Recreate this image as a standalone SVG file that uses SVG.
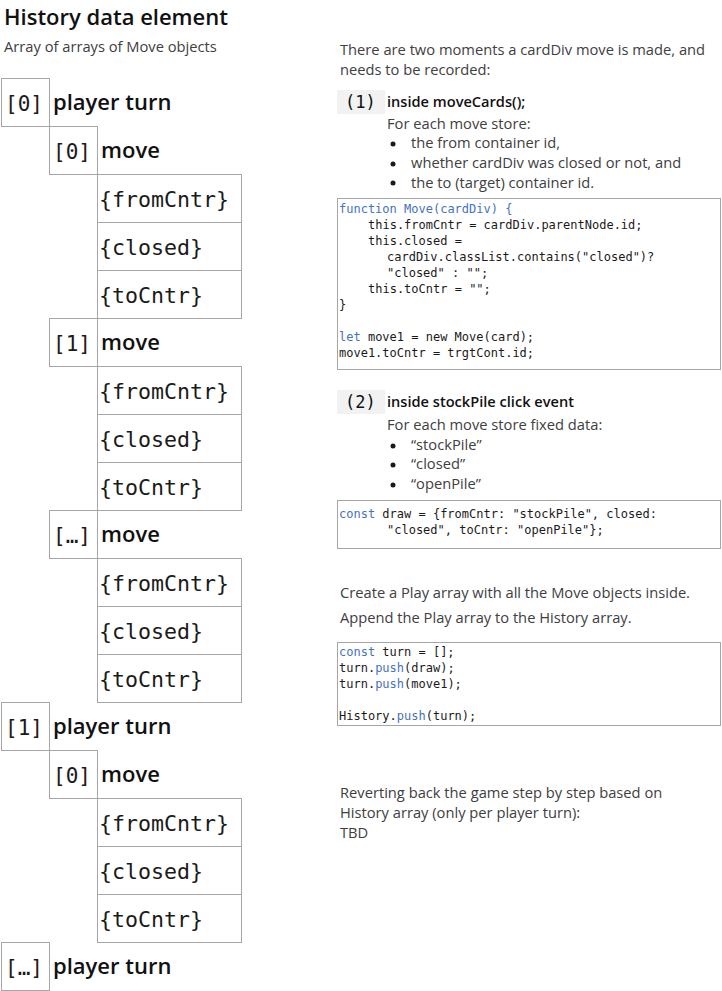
<svg xmlns="http://www.w3.org/2000/svg" width="722" height="991" viewBox="0 0 722 991">
  <style>
    .bg { fill: #ffffff; }
    .cell { fill: none; stroke: #a6a6a6; stroke-width: 1; }
    .idx { font-family: "DejaVu Sans Mono", "Liberation Mono", monospace; font-size: 21px; fill: #1a1a1a; }
    .fld { font-family: "DejaVu Sans Mono", "Liberation Mono", monospace; font-size: 21.6px; fill: #1a1a1a; }
    .lbl { font-family: "Open Sans", "Noto Sans", "Liberation Sans", sans-serif; font-weight: 600; font-size: 22px; fill: #111111; }
    .title { font-family: "Open Sans", "Noto Sans", "Liberation Sans", sans-serif; font-weight: 600; font-size: 22px; fill: #111111; }
    .body { font-family: "Open Sans", "Noto Sans", "Liberation Sans", sans-serif; font-size: 14.7px; fill: #404040; }
    .head { font-family: "Open Sans", "Noto Sans", "Liberation Sans", sans-serif; font-weight: 600; font-size: 14.6px; fill: #111111; }
    .step { font-family: "DejaVu Sans Mono", "Liberation Mono", monospace; font-size: 17px; fill: #111111; }
    .stepbg { fill: #f2f2f2; }
    .codebox { fill: #ffffff; stroke: #a6a6a6; stroke-width: 1; }
    .code { font-family: "DejaVu Sans Mono", "Liberation Mono", monospace; font-size: 12px; fill: #1a1a1a; white-space: pre; }
    .kw { fill: #4472c4; }
    .dot { fill: #1a1a1a; }
  </style>

  <rect class="bg" x="0" y="0" width="722" height="991"/>

  <!-- headings -->
  <text class="title" x="4" y="25">History data element</text>
  <text class="body" x="4" y="52">Array of arrays of Move objects</text>

  <!-- History array: turns, moves and move fields -->
  <g id="turn0">
    <rect class="cell" x="1.5" y="78.5" width="48" height="48"/>
    <text class="idx" x="5" y="111">[0]</text>
    <text class="lbl" x="53" y="110">player turn</text>
  </g>
  <g id="turn0-move0">
    <rect class="cell" x="49.5" y="126.5" width="48" height="48"/>
    <text class="idx" x="53" y="159">[0]</text>
    <text class="lbl" x="101" y="158">move</text>
  </g>
  <g id="turn0-move0-fields">
    <rect class="cell" x="97.5" y="174.5" width="144" height="48"/>
    <rect class="cell" x="97.5" y="222.5" width="144" height="48"/>
    <rect class="cell" x="97.5" y="270.5" width="144" height="48"/>
    <text class="fld" x="99" y="207">{fromCntr}</text>
    <text class="fld" x="99" y="255">{closed}</text>
    <text class="fld" x="99" y="303">{toCntr}</text>
  </g>
  <g id="turn0-move1">
    <rect class="cell" x="49.5" y="318.5" width="48" height="48"/>
    <text class="idx" x="53" y="351">[1]</text>
    <text class="lbl" x="101" y="350">move</text>
  </g>
  <g id="turn0-move1-fields">
    <rect class="cell" x="97.5" y="366.5" width="144" height="48"/>
    <rect class="cell" x="97.5" y="414.5" width="144" height="48"/>
    <rect class="cell" x="97.5" y="462.5" width="144" height="48"/>
    <text class="fld" x="99" y="399">{fromCntr}</text>
    <text class="fld" x="99" y="447">{closed}</text>
    <text class="fld" x="99" y="495">{toCntr}</text>
  </g>
  <g id="turn0-moveN">
    <rect class="cell" x="49.5" y="510.5" width="48" height="48"/>
    <text class="idx" x="53" y="543">[…]</text>
    <text class="lbl" x="101" y="542">move</text>
  </g>
  <g id="turn0-moveN-fields">
    <rect class="cell" x="97.5" y="558.5" width="144" height="48"/>
    <rect class="cell" x="97.5" y="606.5" width="144" height="48"/>
    <rect class="cell" x="97.5" y="654.5" width="144" height="48"/>
    <text class="fld" x="99" y="591">{fromCntr}</text>
    <text class="fld" x="99" y="639">{closed}</text>
    <text class="fld" x="99" y="687">{toCntr}</text>
  </g>
  <g id="turn1">
    <rect class="cell" x="1.5" y="702.5" width="48" height="48"/>
    <text class="idx" x="5" y="735">[1]</text>
    <text class="lbl" x="53" y="734">player turn</text>
  </g>
  <g id="turn1-move0">
    <rect class="cell" x="49.5" y="750.5" width="48" height="48"/>
    <text class="idx" x="53" y="783">[0]</text>
    <text class="lbl" x="101" y="782">move</text>
  </g>
  <g id="turn1-move0-fields">
    <rect class="cell" x="97.5" y="798.5" width="144" height="48"/>
    <rect class="cell" x="97.5" y="846.5" width="144" height="48"/>
    <rect class="cell" x="97.5" y="894.5" width="144" height="48"/>
    <text class="fld" x="99" y="831">{fromCntr}</text>
    <text class="fld" x="99" y="879">{closed}</text>
    <text class="fld" x="99" y="927">{toCntr}</text>
  </g>
  <g id="turnN">
    <rect class="cell" x="1.5" y="942.5" width="48" height="48"/>
    <text class="idx" x="5" y="975">[…]</text>
    <text class="lbl" x="53" y="974">player turn</text>
  </g>

  <!-- no connectors: the hierarchy is shown by the nesting of the cells -->
  <g id="connectors"/>

  <!-- notes on recording moves -->
  <g id="notes-intro">
    <text class="body" x="340" y="55">There are two moments a cardDiv move is made, and</text>
    <text class="body" x="340" y="75">needs to be recorded:</text>
  </g>

  <g id="step1">
    <rect class="stepbg" x="337" y="90" width="48" height="24"/>
    <text class="step" x="345" y="108">(1)</text>
    <text class="head" x="387" y="107">inside moveCards();</text>
    <text class="body" x="387" y="129">For each move store:</text>
    <circle class="dot" cx="393" cy="144" r="2.5"/>
    <circle class="dot" cx="393" cy="164" r="2.5"/>
    <circle class="dot" cx="393" cy="183" r="2.5"/>
    <text class="body" x="411" y="148">the from container id,</text>
    <text class="body" x="411" y="168">whether cardDiv was closed or not, and</text>
    <text class="body" x="411" y="188">the to (target) container id.</text>
  </g>

  <g id="code1">
    <rect class="codebox" x="337.5" y="198.5" width="383" height="171"/>
    <text class="code" x="339" y="213"><tspan class="kw">function</tspan> <tspan class="kw">Move(cardDiv) {</tspan></text>
    <text class="code" x="368" y="229">this.fromCntr = cardDiv.parentNode.id;</text>
    <text class="code" x="368" y="245">this.closed =</text>
    <text class="code" x="387" y="261">cardDiv.classList.contains("closed")?</text>
    <text class="code" x="387" y="277">"closed" : "";</text>
    <text class="code" x="368" y="293">this.toCntr = "";</text>
    <text class="code" x="339" y="309">}</text>
    <text class="code" x="339" y="341"><tspan class="kw">let</tspan> move1 = new Move(card);</text>
    <text class="code" x="339" y="357">move1.toCntr = trgtCont.id;</text>
  </g>

  <g id="step2">
    <rect class="stepbg" x="337" y="390" width="48" height="24"/>
    <text class="step" x="345" y="408">(2)</text>
    <text class="head" x="387" y="407">inside stockPile click event</text>
    <text class="body" x="387" y="430">For each move store fixed data:</text>
    <circle class="dot" cx="393" cy="446" r="2.5"/>
    <circle class="dot" cx="393" cy="465" r="2.5"/>
    <circle class="dot" cx="393" cy="485" r="2.5"/>
    <text class="body" x="411" y="450">“stockPile”</text>
    <text class="body" x="411" y="469">“closed”</text>
    <text class="body" x="411" y="489">“openPile”</text>
  </g>

  <g id="code2">
    <rect class="codebox" x="337.5" y="500.5" width="383" height="48"/>
    <text class="code" x="339" y="518"><tspan class="kw">const</tspan> draw = {fromCntr: "stockPile", closed:</text>
    <text class="code" x="387" y="534">"closed", toCntr: "openPile"};</text>
  </g>

  <g id="play-notes">
    <text class="body" x="340" y="598">Create a Play array with all the Move objects inside.</text>
    <text class="body" x="340" y="623">Append the Play array to the History array.</text>
  </g>

  <g id="code3">
    <rect class="codebox" x="337.5" y="642.5" width="383" height="83"/>
    <text class="code" x="339" y="656"><tspan class="kw">const</tspan> turn = [];</text>
    <text class="code" x="339" y="672">turn.<tspan class="kw">push</tspan>(draw);</text>
    <text class="code" x="339" y="688">turn.<tspan class="kw">push</tspan>(move1);</text>
    <text class="code" x="339" y="720">History.<tspan class="kw">push</tspan>(turn);</text>
  </g>

  <g id="revert-notes">
    <text class="body" x="340" y="798">Reverting back the game step by step based on</text>
    <text class="body" x="340" y="818">History array (only per player turn):</text>
    <text class="body" x="340" y="838">TBD</text>
  </g>
</svg>
